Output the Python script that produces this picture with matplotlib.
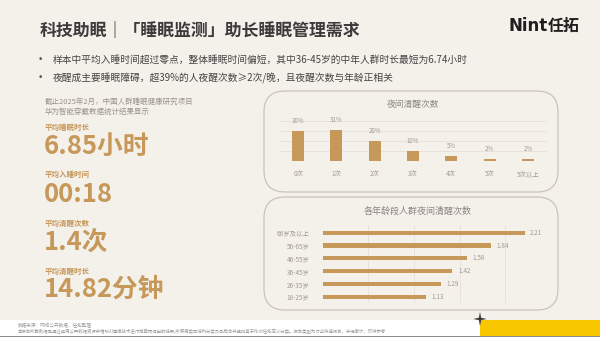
import matplotlib
matplotlib.use("Agg")
import math
import matplotlib.pyplot as plt
from matplotlib.patches import FancyBboxPatch, Rectangle, PathPatch
from matplotlib.path import Path

plt.rcParams['font.family'] = ['Noto Sans CJK SC', 'DejaVu Sans']

# ---------------- data ----------------
title = "科技助眠｜「睡眠监测」助长睡眠管理需求"
bullets = [
    "样本中平均入睡时间超过零点，整体睡眠时间偏短，其中36-45岁的中年人群时长最短为6.74小时",
    "夜醒成主要睡眠障碍，超39%的人夜醒次数≥2次/晚，且夜醒次数与年龄正相关",
]
source_lines = ["截止2025年2月，中国人群睡眠健康研究项目", "华为智能穿戴数据统计结果显示"]
kpi_labels = ["平均睡眠时长", "平均入睡时间", "平均清醒次数", "平均清醒时长"]
kpi_values = ["6.85小时", "00:18", "1.4次", "14.82分钟"]

wake_cats = ["0次", "1次", "2次", "3次", "4次", "5次", "5次以上"]
wake_pct = [30, 31, 20, 10, 5, 2, 2]

age_cats = ["18-25岁", "26-35岁", "36-45岁", "46-55岁", "56-65岁", "66岁及以上"]
age_vals = [1.13, 1.29, 1.42, 1.58, 1.84, 2.21]

footer = ["数据来源：网络公开数据，任拓整理",
          "本报告所載数据是通过运用公开数据资源并借助AI建模技术进行推算而得出的结果,所使用类目结构分类及品牌合并规则基于Nint任拓定义分类。报告类型为行业快速报告，未经审计，仅供参考"]

# ---------------- style ----------------
W, H = 600, 337
BG = "#f4f0ea"
GOLD = "#c6985a"
GREY = "#9a948e"
DARK = "#3b3b3b"

fig = plt.figure(figsize=(6, 3.37), dpi=100, facecolor=BG)

def fx(x):
    return x / W

def fy(y):
    return 1 - y / H

def txt(x, y, s, **kw):
    fig.text(fx(x), fy(y), s, **kw)

# title and logo
txt(40, 31, title, fontsize=12.2, fontweight='bold', color=DARK, va='center', ha='left')
txt(508, 26, "Nint", fontsize=12, fontweight='bold', color="#1e1e1e", va='center', ha='left',
    family=['DejaVu Sans'])
txt(548, 26, "任拓", fontsize=11.5, fontweight='bold', color="#1e1e1e", va='center', ha='left')

# bullets
for i, b in enumerate(bullets):
    y = 60 + 18 * i
    txt(40, y, "•", fontsize=6.5, color="#555555", va='center', ha='center', family=['DejaVu Sans'])
    txt(53, y, b, fontsize=7.0, color="#444444", va='center', ha='left')

# left panel
for i, s in enumerate(source_lines):
    txt(45, 102 + 9.5 * i, s, fontsize=5.4, color=GREY, va='center', ha='left')

label_y = [127, 174, 223, 271]
value_y = [146, 194, 242, 289]
for lab, val, ly, vy in zip(kpi_labels, kpi_values, label_y, value_y):
    txt(45, ly, lab, fontsize=5.4, fontweight='bold', color=GOLD, va='center', ha='left')
    txt(44, vy, val, fontsize=18.5, fontweight='bold', color=GOLD, va='center', ha='left')

# rounded panels
for (x0, y0, x1, y1) in [(264, 91, 558, 192), (264, 197, 558, 310)]:
    p = FancyBboxPatch((fx(x0), fy(y1)), fx(x1 - x0), (y1 - y0) / H,
                       boxstyle="round,pad=0,rounding_size=0.035",
                       transform=fig.transFigure, facecolor=BG, edgecolor="#c9c3bc",
                       linewidth=0.9, mutation_aspect=W / H, zorder=1)
    fig.patches.append(p)

txt(413, 104, "夜间清醒次数", fontsize=6.3, color="#8a8580", va='center', ha='center')
txt(418, 211, "各年龄段人群夜间清醒次数", fontsize=6.5, color="#8a8580", va='center', ha='center')

# vertical bar chart
ax1 = fig.add_axes([fx(279), fy(160.7), fx(547 - 279), (160.7 - 120.7) / H])
ax1.set_zorder(5)
ax1.set_facecolor('none')
xs = range(len(wake_cats))
ax1.bar(xs, wake_pct, width=0.31, color=GOLD, zorder=3)
ax1.set_xlim(-0.5, len(wake_cats) - 0.5)
ax1.set_ylim(0, 40)
ax1.set_yticks([0, 10, 20, 30, 40])
ax1.yaxis.grid(True, color="#e6e0d9", linewidth=0.6)
ax1.tick_params(left=False, labelleft=False, bottom=False, pad=4)
ax1.set_xticks(list(xs))
ax1.set_xticklabels(wake_cats, fontsize=4.6, color="#a09a94")
for s in ax1.spines.values():
    s.set_visible(False)
for x, v in zip(xs, wake_pct):
    ax1.annotate(f"{v}%", (x, v), xytext=(0, 4), textcoords='offset points',
                 ha='center', va='bottom', fontsize=4.4, color="#a09a94", annotation_clip=False)

# horizontal bar chart
ax2 = fig.add_axes([fx(322.7), fy(303.1), fx(551 - 322.7), (303.1 - 226.3) / H])
ax2.set_zorder(5)
ax2.set_facecolor('none')
ys = range(len(age_cats))
ax2.barh(ys, age_vals, height=0.32, color=GOLD, zorder=3)
ax2.set_ylim(-0.5, len(age_cats) - 0.5)
ax2.set_xlim(0, 2.5)
ax2.set_xticks([0.5, 1.0, 1.5, 2.0, 2.5])
ax2.xaxis.grid(True, color="#e6e0d9", linewidth=0.6)
ax2.tick_params(bottom=False, labelbottom=False, left=False, pad=6)
ax2.set_yticks(list(ys))
ax2.set_yticklabels(age_cats, fontsize=4.6, color="#a09a94")
for s in ax2.spines.values():
    s.set_visible(False)
for y, v in zip(ys, age_vals):
    ax2.annotate(f"{v:.2f}", (v, y), xytext=(4, 0), textcoords='offset points',
                 ha='left', va='center', fontsize=4.6, color="#a09a94", annotation_clip=False)

# footer strip
fig.patches.append(Rectangle((0, 0), 1, (H - 320) / H, transform=fig.transFigure,
                             facecolor="white", edgecolor='none', zorder=1))
fig.patches.append(Rectangle((fx(480), 0), 1 - fx(480), (H - 320) / H, transform=fig.transFigure,
                             facecolor="#f9c700", edgecolor='none', zorder=1))
fig.patches.append(Rectangle((0, 0), 1, 1.2 / H, transform=fig.transFigure,
                             facecolor="#8a8a8a", edgecolor='none', zorder=1))
txt(18, 326, footer[0], fontsize=3.3, color="#9a9a9a", va='center', ha='left')
txt(18, 331.5, footer[1], fontsize=3.15, color="#9a9a9a", va='center', ha='left')

# four-point star
cx, cy, r, r2 = 480, 319, 7.0, 1.7
pts = []
for k in range(8):
    ang = math.pi / 2 + k * math.pi / 4
    rr = r if k % 2 == 0 else r2
    pts.append((fx(cx + rr * math.cos(ang) * 0.95), fy(cy - rr * math.sin(ang))))
pts.append(pts[0])
codes = [Path.MOVETO] + [Path.LINETO] * 7 + [Path.CLOSEPOLY]
fig.patches.append(PathPatch(Path(pts, codes), transform=fig.transFigure,
                             facecolor="#3d3a38", edgecolor='none', zorder=2))

fig.savefig("out.png", dpi=100, facecolor=BG)
